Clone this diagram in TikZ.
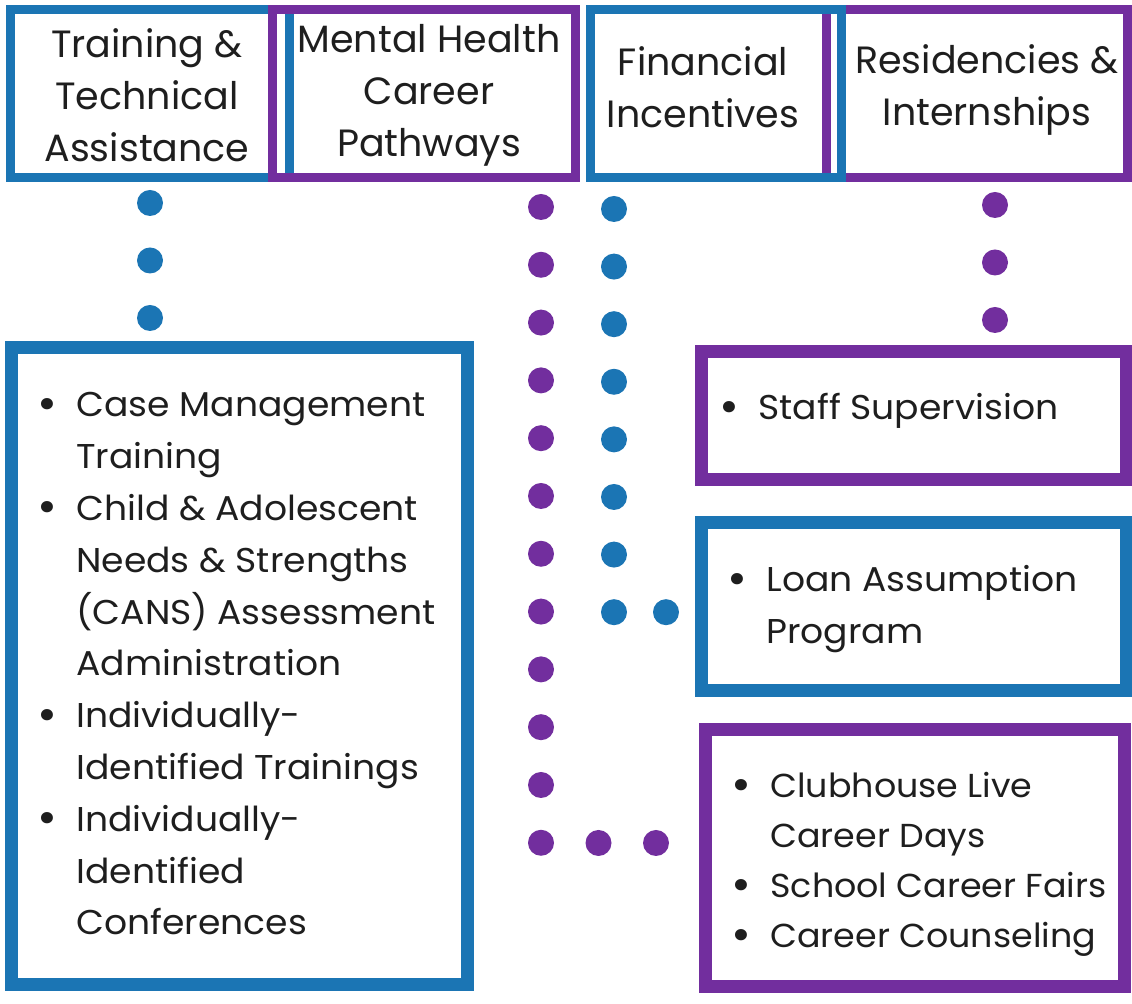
\documentclass[tikz,border=0pt]{standalone}
\usepackage{fontspec}
\setmainfont{Poppins}
\newfontfamily\wideface[FakeStretch=1.05]{Poppins}
\usetikzlibrary{positioning}

\definecolor{rsblue}{RGB}{27,117,180}
\definecolor{rspurple}{RGB}{114,46,158}
\definecolor{rsink}{RGB}{30,30,30}

\newcommand{\itm}{\makebox[19.5pt][l]{\raisebox{-1.2pt}{\fontsize{23}{0}\selectfont\textbullet}}}
\newcommand{\ind}{\hspace*{19.5pt}}

\begin{document}
\begin{tikzpicture}[x=0.5pt,y=-0.5pt,
  headbox/.style={draw,line width=4.5pt,inner sep=0pt,minimum height=84pt},
  listbox/.style={draw,line width=6.5pt,inner sep=0pt},
  headtext/.style={text=rsink,align=center,inner sep=0pt,
    font=\fontsize{19}{26}\selectfont},
  listtext/.style={text=rsink,align=left,inner sep=0pt,anchor=base west,
    font=\wideface\fontsize{17.2}{25.9}\selectfont},
  dot/.style={circle,fill,inner sep=0pt,minimum size=13pt}]
  \useasboundingbox (0,0) rectangle (1132,1004);

  % top row of headings
  \node[headbox,rsblue,minimum width=139.5pt] (train) at (149.5,94) {};
  \node[headbox,rspurple,minimum width=151.5pt] (mental) at (423.5,94) {};
  \node[headbox,rspurple,minimum width=150.5pt] (resid) at (976.5,94) {};
  \node[headbox,rsblue,minimum width=125.5pt] (fin) at (715.5,94) {};
  \node[headtext] (train-t) at (147,95) {Training \&\\Technical\\Assistance};
  \node[headtext] (mental-t) at (429,95) {Mental Health\\Career\\Pathways};
  \node[headtext] (fin-t) at (703,87) {Financial\\Incentives};
  \node[headtext] (resid-t) at (987,90) {Residencies \&\\Internships};

  % boxes of programs
  \node[listbox,rsblue,minimum width=228pt,minimum height=318.5pt] (trainlist) at (239,666.5) {};
  \node[listbox,rspurple,minimum width=212.5pt,minimum height=64pt] (residlist) at (913.5,416) {};
  \node[listbox,rsblue,minimum width=212.5pt,minimum height=84pt] (finlist) at (913.5,607) {};
  \node[listbox,rspurple,minimum width=209.5pt,minimum height=128.5pt] (mentallist) at (914.5,858.5) {};

  % text is anchored at the baseline of its last line
  \node[listtext] (trainlist-t) at (37,935) {\itm Case Management\\\ind Training\\
    \itm Child \& Adolescent\\\ind Needs \& Strengths\\\ind (CANS) Assessment\\
    \ind Administration\\\itm Individually-\\\ind Identified Trainings\\
    \itm Individually-\\\ind Identified\\\ind Conferences};
  \node[listtext] (residlist-t) at (719,420) {\itm Staff Supervision};
  \node[listtext,font=\wideface\fontsize{17.2}{26}\selectfont] (finlist-t) at (727,644)
    {\itm Loan Assumption\\\ind Program};
  \node[listtext,font=\wideface\fontsize{16.6}{25}\selectfont] (mentallist-t) at (731,948)
    {\itm Clubhouse Live\\\ind Career Days\\\itm School Career Fairs\\\itm Career Counseling};

  % dotted links
  \foreach \i in {0,1,2}
    \node[dot,rsblue] (td-\i) at (150,{203+57.5*\i}) {};
  \foreach \i in {0,...,11}
    \node[dot,rspurple] (md-\i) at (541,{207+57.8*\i}) {};
  \foreach \i in {1,2}
    \node[dot,rspurple] (mh-\i) at ({541+57.5*\i},843) {};
  \foreach \i in {0,...,7}
    \node[dot,rsblue] (fd-\i) at (614,{209+57.6*\i}) {};
  \node[dot,rsblue,right=26pt of fd-7.center,anchor=center] (fh-1) {};
  \foreach \i in {0,1,2}
    \node[dot,rspurple] (rd-\i) at (995,{205+57.5*\i}) {};
\end{tikzpicture}
\end{document}
